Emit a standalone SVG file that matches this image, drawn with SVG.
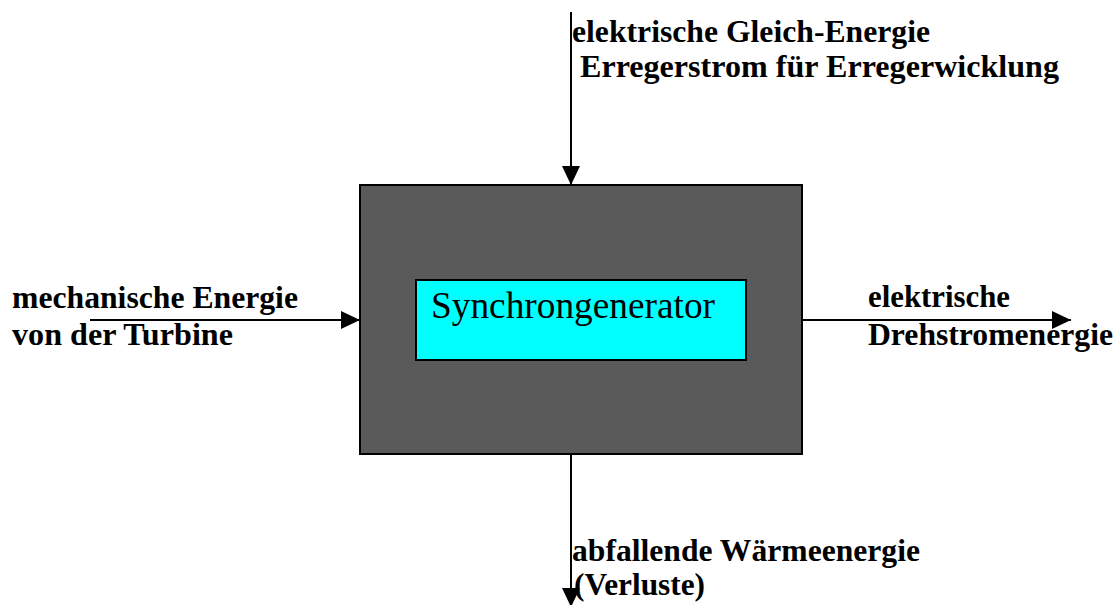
<svg xmlns="http://www.w3.org/2000/svg" width="1118" height="605" viewBox="0 0 1118 605">
  <style>
    .lbl { font-family: "Liberation Serif", "Times New Roman", serif; font-weight: bold; font-size: 31px; fill: #000; }
    .title { font-family: "Liberation Serif", "Times New Roman", serif; font-size: 38px; fill: #000; }
    .flow { stroke: #000; stroke-width: 2; fill: none; marker-end: url(#head); }
  </style>
  <defs>
    <marker id="head" markerUnits="userSpaceOnUse" markerWidth="20" markerHeight="18" refX="19" refY="9" orient="auto">
      <path d="M0,0 L19,9 L0,18 Z" fill="#000"/>
    </marker>
  </defs>

  <rect width="1118" height="605" fill="#fff"/>

  <!-- energy flows into and out of the generator -->
  <g id="connectors">
    <line class="flow" x1="571" y1="12" x2="571" y2="185"/>
    <line class="flow" x1="90" y1="320" x2="360" y2="320"/>
    <line class="flow" x1="802" y1="320" x2="1071" y2="320"/>
    <line class="flow" x1="571" y1="454" x2="571" y2="607"/>
  </g>

  <!-- machine housing -->
  <g id="housing">
    <rect x="360" y="185" width="442" height="269" fill="#5a5a5a" stroke="#000" stroke-width="2"/>
  </g>

  <g id="generator">
    <rect x="416" y="280" width="330" height="80" fill="#00ffff" stroke="#000" stroke-width="2"/>
    <text class="title" x="431" y="318" textLength="284" lengthAdjust="spacingAndGlyphs">Synchrongenerator</text>
  </g>

  <g id="label-excitation">
    <text class="lbl" x="572" y="42" textLength="358" lengthAdjust="spacingAndGlyphs">elektrische Gleich-Energie</text>
    <text class="lbl" x="580" y="77" textLength="479" lengthAdjust="spacingAndGlyphs">Erregerstrom für Erregerwicklung</text>
  </g>

  <g id="label-mechanical">
    <text class="lbl" x="12" y="308" textLength="286" lengthAdjust="spacingAndGlyphs">mechanische Energie</text>
    <text class="lbl" x="12" y="345" textLength="221" lengthAdjust="spacingAndGlyphs">von der Turbine</text>
  </g>

  <g id="label-electrical">
    <text class="lbl" x="868" y="307" textLength="142" lengthAdjust="spacingAndGlyphs">elektrische</text>
    <text class="lbl" x="868" y="345" textLength="245" lengthAdjust="spacingAndGlyphs">Drehstromenergie</text>
  </g>

  <g id="label-losses">
    <text class="lbl" x="572" y="561" textLength="348" lengthAdjust="spacingAndGlyphs">abfallende Wärmeenergie</text>
    <text class="lbl" x="574" y="595" textLength="131" lengthAdjust="spacingAndGlyphs">(Verluste)</text>
  </g>
</svg>
